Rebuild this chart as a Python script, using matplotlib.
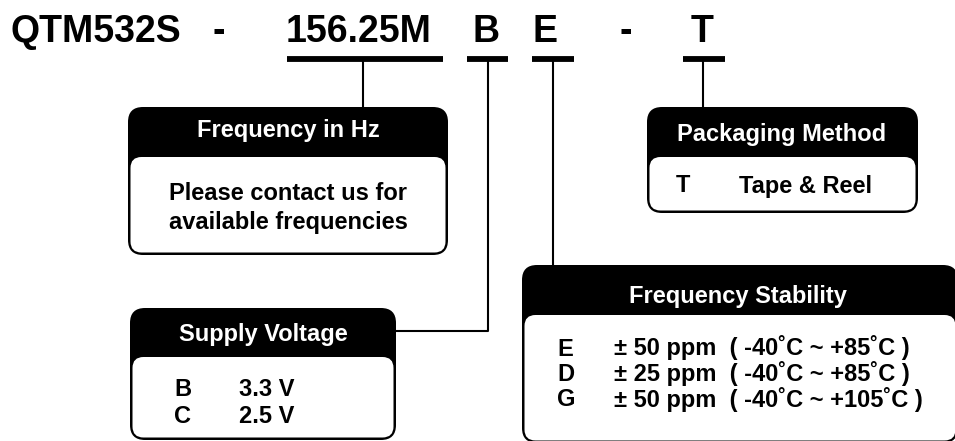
import matplotlib.pyplot as plt
from matplotlib.patches import FancyBboxPatch

plt.rcParams['font.family'] = ['Liberation Sans', 'DejaVu Sans']
plt.rcParams['font.weight'] = 'bold'

# part number segments
code_parts = ['QTM532S', '-', '156.25M', 'B', 'E', '-', 'T']
code_x = [10, 212, 286, 472, 532, 619, 691]

# option boxes
freq_title = 'Frequency in Hz'
freq_lines = ['Please contact us for', 'available frequencies']

pack_title = 'Packaging Method'
pack_codes = ['T']
pack_desc = ['Tape & Reel']

volt_title = 'Supply Voltage'
volt_codes = ['B', 'C']
volt_desc = ['3.3 V', '2.5 V']

stab_title = 'Frequency Stability'
stab_codes = ['E', 'D', 'G']
stab_desc = ['\u00b1 50 ppm  ( -40\u02daC ~ +85\u02daC )',
             '\u00b1 25 ppm  ( -40\u02daC ~ +85\u02daC )',
             '\u00b1 50 ppm  ( -40\u02daC ~ +105\u02daC )']

fig = plt.figure(figsize=(9.55, 4.41), dpi=100)
ax = fig.add_axes([0, 0, 1, 1])
ax.set_xlim(0, 955)
ax.set_ylim(441, 0)
ax.axis('off')

for txt, x in zip(code_parts, code_x):
    ax.text(x, 41.5, txt, fontsize=27, ha='left', va='baseline', color='black')

# underline bars
bars = [(287, 443), (467, 508), (532, 574), (683, 725)]
for x0, x1 in bars:
    ax.plot([x0, x1], [59, 59], color='black', lw=4.2, solid_capstyle='butt')

lw = 1.5
ax.plot([363, 363], [61, 108], color='black', lw=lw)
ax.plot([487.5, 487.5, 395], [61, 331, 331], color='black', lw=lw)
ax.plot([553, 553], [61, 266], color='black', lw=lw)
ax.plot([703, 703], [61, 108], color='black', lw=lw)


def box(x0, x1, y0, y1, yband):
    ax.add_patch(FancyBboxPatch((x0, y0), x1 - x0, y1 - y0,
                                boxstyle='round,pad=0,rounding_size=15',
                                fc='black', ec='black', lw=0))
    ax.add_patch(FancyBboxPatch((x0 + 2.5, yband), x1 - x0 - 5, y1 - yband - 2.5,
                                boxstyle='round,pad=0,rounding_size=11',
                                fc='white', ec='none', lw=0))


# Frequency in Hz
box(128, 448, 107, 255, 157)
ax.text(288, 137.5, freq_title, fontsize=17, color='white', ha='center', va='baseline')
for i, s in enumerate(freq_lines):
    ax.text(288, 200 + i * 29.5, s, fontsize=17, ha='center', va='baseline')

# Packaging Method
box(647, 918, 107, 213, 157)
ax.text(782, 141, pack_title, fontsize=17, color='white', ha='center', va='baseline')
for i, (c, d) in enumerate(zip(pack_codes, pack_desc)):
    ax.text(676, 192.5 + i * 27, c, fontsize=17, ha='left', va='baseline')
    ax.text(739, 192.5 + i * 27, d, fontsize=17, ha='left', va='baseline')

# Supply Voltage
box(130, 396, 308, 440, 357)
ax.text(263, 341.5, volt_title, fontsize=17, color='white', ha='center', va='baseline')
for i, (c, d) in enumerate(zip(volt_codes, volt_desc)):
    ax.text(174, 396.5 + i * 26.5, c, fontsize=17, ha='left', va='baseline')
    ax.text(239, 396.5 + i * 26.5, d, fontsize=17, ha='left', va='baseline')

# Frequency Stability
box(522, 958, 265, 443, 315)
ax.text(738, 303, stab_title, fontsize=17, color='white', ha='center', va='baseline')
for i, (c, d) in enumerate(zip(stab_codes, stab_desc)):
    ax.text(557, 355.5 + i * 25.5, c, fontsize=17, ha='left', va='baseline')
    ax.text(614, 355.5 + i * 25.5, d, fontsize=17, ha='left', va='baseline')

fig.savefig('out.png', dpi=100)
